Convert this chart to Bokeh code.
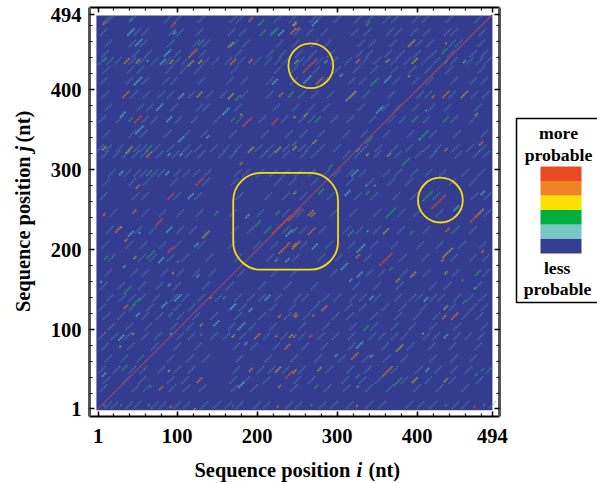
from bokeh.plotting import figure
from bokeh.models import FixedTicker, LinearAxis, Label, Range1d
from bokeh.layouts import row
from bokeh.embed import file_html
from bokeh.resources import INLINE

# ---- data: (i, j, streak length) in sequence positions
teal = [(42,472,10),(52,459,10),(97,471,4),(88,446,10),(63,436,2),(82,435,8),(230,471,8),(51,411,12),(105,392,8),
(222,410,8),(78,378,10),(32,369,8),(90,363,8),(161,373,10),(53,350,12),(138,341,4),(105,338,8),(90,319,4),(105,319,4),
(30,296,6),(88,296,6),(117,267,8),(272,483,8),(286,435,4),(263,413,12),(249,435,6),(305,418,4),(436,435,4),(459,435,4),
(363,413,10),(353,375,10),(411,374,2),(403,338,2),(326,325,6),(336,280,2),(347,280,2),(322,296,10),(313,271,8),(449,252,8),
(482,271,6),(188,242,6),(240,221,10),(238,187,6),(224,187,4),(42,220,8),(53,221,2),(90,225,8),(80,187,8),(124,206,6),(34,179,4),
(126,167,4),(5,160,3),(90,156,4),(101,140,10),(84,131,8),(170,129,8),(213,140,8),(192,125,6),(51,119,6),(149,108,8),(180,104,10),
(30,90,8),(92,95,2),(186,83,4),(180,31,8),(9,44,6),(272,204,8),(338,223,2),(330,202,12),(309,179,10),(328,169,8),(317,162,4),
(343,140,6),(411,138,6),(436,92,6),(328,81,10),(299,68,4),(343,67,4),(326,29,3),(413,50,6)]
green = [(42,488,4),(130,459,8),(10,438,6),(205,484,8),(222,473,10),(207,471,8),(176,390,8),(242,394,8),(42,363,6),(170,363,6),
(65,327,8),(247,333,6),(65,296,8),(149,246,6),(339,483,6),(347,410,12),(434,448,8),(397,363,8),(436,363,8),(276,363,8),(409,344,12),
(340,337,10),(386,310,12),(292,304,6),(338,271,6),(367,246,14),(413,267,14),(280,273,8),(213,225,10),(201,233,8),(226,246,6),
(101,185,3),(67,194,12),(11,190,5),(38,150,10),(49,135,10),(159,140,4),(92,119,6),(130,94,3),(34,52,8),(67,29,3),(9,6,3),(30,6,3),
(65,6,3),(170,5,3),(247,225,8),(393,221,6),(317,221,8),(367,176,5),(457,162,3),(476,171,8),(278,135,3),(459,135,6),(336,102,8),
(326,42,6),(474,44,4),(482,50,4),(274,29,6),(376,35,12),(436,6,3),(268,6,3),(484,6,3)]
olive = [(51,436,6),(93,435,6),(117,433,8),(129,435,6),(167,456,8),(247,481,4),(128,394,8),(167,392,8),(180,369,2),(9,327,6),
(40,325,10),(192,325,8),(226,325,8),(247,483,6),(363,436,5),(397,436,8),(393,458,10),(390,417,3),(317,392,14),(459,394,10),(474,369,4),
(261,369,6),(247,366,3),(247,327,6),(272,335,6),(338,319,4),(365,319,6),(478,246,12),(247,271,4),(247,206,6),(30,228,2),(47,190,4),
(136,219,10),(95,171,3),(130,106,4),(45,95,3),(29,79,3),(170,92,4),(242,92,5),(90,49,3),(226,50,8),(122,1,2),(270,244,6),(361,223,8),
(438,196,14),(395,169,8),(376,162,6),(436,171,4),(472,152,2),(249,117,4),(436,128,6),(407,95,2),(378,77,10),(247,48,6),(278,51,6),
(397,37,8),(436,37,6)]
orange = [(9,483,4),(37,436,8),(120,446,12),(170,435,8),(192,436,6),(192,488,6),(245,473,8),(36,394,10),(230,394,6),(65,319,8),(180,308,4),
(51,279,6),(47,248,6),(251,476,4),(278,411,10),(326,436,6),(436,458,2),(436,394,10),(420,391,4),(480,333,6),(436,325,4),(267,246,8),
(234,202,16),(26,225,8),(9,244,3),(36,212,4),(36,129,6),(142,140,3),(228,117,4),(247,119,5),(200,92,8),(224,92,3),(238,79,8),(128,37,8),
(192,50,5),(80,27,6),(228,29,4),(92,4,3),(226,4,3),(268,223,10),(249,206,12),(270,118,3),(326,192,6),(438,225,6),(432,187,4),(482,198,4),
(284,127,8),(247,92,4),(434,116,6),(447,117,10),(322,67,10),(363,48,14),(325,5,3)]
red = [(95,481,6),(51,363,10),(188,360,12),(222,360,8),(128,285,10),(92,267,8),(9,244,4),(266,430,18),(427,260,18),(230,231,24),
(247,244,16),(78,235,8),(92,200,8),(10,96,2),(240,44,10),(361,188,16),(472,240,12),(267,92,4),(472,4,3)]

faint_rows = {
488:[12,16,44,88,100,130,170,178,225,244,270,276,300,326,340,362,372,398,410,440,476],
472:[8,50,60,94,104,128,168,182,220,250,266,284,322,338,366,376,396,412,438,446,482],
458:[14,44,58,92,124,136,172,186,228,248,272,288,330,344,370,402,416,444,452,480],
445:[10,48,64,100,132,176,216,232,252,270,292,328,340,364,380,400,420,442,470,484],
436:[6,16,26,44,56,72,88,100,110,136,148,164,180,200,214,226,236,254,262,278,296,314,334,350,372,388,410,424,446,466,478,488],
425:[12,42,54,90,108,126,172,226,246,274,300,324,346,372,394,414,440,480],
411:[8,40,60,86,96,130,166,184,216,246,284,318,332,374,398,416,446,470,484],
394:[10,46,62,80,92,118,140,158,184,216,256,272,292,320,336,368,404,414,444,472,486],
378:[14,54,66,96,128,136,176,224,248,268,286,330,360,376,398,418,438,476],
363:[6,28,60,72,102,122,150,178,206,234,256,268,296,316,344,368,382,412,446,470],
345:[12,44,58,88,112,134,170,210,240,258,280,312,334,362,392,420,450,484],
327:[4,14,28,50,58,74,92,112,126,146,162,176,202,216,236,256,264,280,300,334,352,372,390,412,426,448,466,482],
319:[10,24,36,48,58,78,98,114,130,156,170,208,218,236,258,272,312,326,350,376,402,420,452,474,486],
296:[18,38,50,58,72,80,100,112,124,138,176,186,204,220,236,252,268,286,300,316,332,362,376,396,414,432,460,480],
285:[12,44,62,96,136,172,226,244,272,316,342,368,390,412,444,470],
267:[8,48,60,100,126,178,214,236,258,292,326,346,374,396,424,472,488],
246:[20,60,82,104,128,170,204,236,254,296,320,350,380,400,428,452,488],
225:[16,52,70,104,120,172,192,236,258,282,312,328,350,380,412,448,470],
206:[10,40,58,82,100,130,168,200,222,258,290,318,346,372,404,428,456,482],
190:[18,56,70,92,110,140,176,216,248,280,302,338,382,410,446,470,486],
171:[14,46,60,84,104,124,144,180,222,246,296,340,356,384,412,448,486],
155:[8,30,56,78,100,136,166,206,238,272,324,350,378,420,438,476],
140:[16,32,44,56,74,96,110,130,152,176,192,206,226,250,260,286,300,320,332,350,376,394,402,420,430,450,466,482],
128:[6,44,66,100,118,168,182,220,244,272,314,332,360,382,408,444,470,484],
117:[12,30,60,78,104,124,146,176,206,238,262,298,316,346,376,400,424,460,478],
104:[18,40,64,96,116,168,194,220,256,286,320,346,372,394,420,450,484],
92:[6,22,38,60,76,104,118,146,162,182,212,234,256,280,298,318,344,356,372,384,412,424,450,464,480],
79:[10,42,72,100,126,174,196,224,260,284,318,360,392,418,444,476],
64:[14,34,54,92,116,136,178,214,246,276,306,336,362,384,420,446,470],
50:[6,24,44,58,80,100,118,174,204,218,236,256,290,316,338,372,402,426,446,464,490],
37:[12,36,56,92,110,170,186,212,250,268,310,332,352,384,414,444,478],
27:[8,48,62,94,112,132,172,196,246,288,312,340,366,400,428,460],
6:[14,22,40,50,72,82,100,112,134,150,164,178,200,212,240,252,282,296,316,340,356,390,404,420,448,460,494]}

diag_i = [1, 494]
diag_j = [1, 494]
circle_i = [267, 429]
circle_j = [430, 262]
circle_d = [56, 56]
box_lrtb = (170, 301, 296, 175)
x_major = [1, 100, 200, 300, 400, 494]
y_major = [1, 100, 200, 300, 400, 494]
minor = [20*k for k in range(1, 25)]
tick_text = {1:"1", 100:"100", 200:"200", 300:"300", 400:"400", 494:"494"}
legend_colors = ["#343D92", "#79C6C4", "#00AE3D", "#F9E000", "#EE8323", "#E84B24"]
legend_levels = [0, 1, 2, 3, 4, 5]

SERIF = "Liberation Serif"
H = 483
XLO, XHI, YLO, YHI = -9.6, 502.9, -8.5, 502.75

p = figure(width=510, height=H, output_backend="svg", toolbar_location=None,
           x_range=Range1d(-120.9, 516.6), y_range=Range1d(-92.25, 511.5),
           x_axis_location=None, y_axis_location=None,
           min_border=0, outline_line_color=None, background_fill_color="white")
p.grid.visible = False

p.quad(left=-1, right=494, bottom=-0.6, top=492.7, fill_color="#343C90", line_color=None)

def draw(rows, color, width, alpha, dash="solid", scale=1.0):
    x0 = [r[0]-scale*r[2]/2 for r in rows]; y0 = [r[1]-scale*r[2]/2 for r in rows]
    x1 = [r[0]+scale*r[2]/2 for r in rows]; y1 = [r[1]+scale*r[2]/2 for r in rows]
    p.segment(x0, y0, x1, y1, line_color=color, line_width=width, line_alpha=alpha, line_dash=dash)

def blurred(rows, color, alpha, dash="2 1", scale=0.9):
    draw(rows, color, 2.6, 0.25, "solid", scale)
    draw(rows, color, 1.2, alpha, dash, scale)

faint = [(i, j, 9) for j, row_i in faint_rows.items() for i in row_i]
draw(faint, "#5aa8b8", 2.4, 0.14)
draw(faint, "#5aa8b8", 1.2, 0.5, "1 2")
blurred(teal, "#4fb0c0", 0.8)
blurred(green, "#259a62", 0.85)
blurred(olive, "#a8a63a", 0.8)
blurred(orange, "#c8783a", 0.85)
blurred(red, "#c84a42", 0.85, "3 1", 1.0)
p.line(diag_i, diag_j, line_color="#9c4c66", line_width=1.1, line_alpha=0.9)

YEL = "#F7DC0E"
p.ellipse(circle_i, circle_j, width=circle_d, height=circle_d, fill_color=None, line_color=YEL, line_width=1.8)
l, r, t, b = box_lrtb
p.quad(left=[l], right=[r], top=[t], bottom=[b], fill_color=None, line_color=YEL, line_width=1.8, border_radius=28)

def make_axis(ticks, bounds, where, labelled, color, width):
    ax = LinearAxis(ticker=FixedTicker(ticks=ticks, minor_ticks=minor), bounds=bounds, fixed_location=where)
    ax.major_tick_in = 5; ax.major_tick_out = 0
    ax.minor_tick_in = 3; ax.minor_tick_out = 0
    ax.major_tick_line_color = "black"; ax.minor_tick_line_color = "black"
    ax.major_tick_line_width = 1.5; ax.minor_tick_line_width = 1.2
    ax.axis_line_color = color; ax.axis_line_width = width
    if labelled:
        ax.major_label_text_font = SERIF
        ax.major_label_text_font_style = "bold"
        ax.major_label_text_font_size = "20.5px"
        ax.major_label_text_color = "black"
        ax.major_label_overrides = tick_text
    else:
        ax.major_label_text_font_size = "0px"
        ax.major_label_standoff = 0
        ax.major_label_overrides = {t: "" for t in ticks}
    return ax

bottom = make_axis(x_major, (XLO, XHI), YLO, True, "black", 2)
bottom.major_label_standoff = 12
left = make_axis(y_major, (YLO, YHI), XLO, True, "#555555", 3)
left.major_label_standoff = 8
p.add_layout(bottom, "below")
p.add_layout(left, "left")
p.add_layout(make_axis(x_major, (XLO, XHI), YHI, False, "black", 2), "above")
p.add_layout(make_axis(y_major, (YLO, YHI), XHI, False, "#555555", 3), "right")

def lab(x, y, text, size, style="bold", angle=0):
    p.add_layout(Label(x=x, y=y, text=text, text_font=SERIF, text_font_size=size, text_font_style=style,
                       angle=angle, angle_units="deg", text_align="left", text_baseline="middle", text_color="black"))

# x axis title
lab(121.6, -75.6, "Sequence position", "20.4px")
lab(324, -75.6, "i", "20.4px", style="bold italic")
lab(339, -75.6, "(nt)", "20.4px")
# y axis title
lab(-93, 122, "Sequence position", "20.4px", angle=90)
lab(-93, 322.7, "j", "20.4px", style="bold italic", angle=90)
lab(-93, 334, "(nt)", "20.4px", angle=90)

# legend panel, a figure of its own; y is in colour levels, x in page pixels
lvl = lambda Y: (253-Y)/14.5
q = figure(width=87, height=H, output_backend="svg", toolbar_location=None,
           x_range=Range1d(510, 597), y_range=Range1d(lvl(H), lvl(0)),
           x_axis_location=None, y_axis_location=None,
           min_border=0, outline_line_color=None)
q.grid.visible = False
q.quad(left=540, right=581, bottom=legend_levels, top=[v+1 for v in legend_levels], fill_color=legend_colors, line_color=None)
q.line([610, 516, 516, 610], [lvl(118), lvl(118), lvl(302), lvl(302)], line_color="black", line_width=1.5)
for txt, yy, xx in [("more", 132.5, 558), ("probable", 154, 558), ("less", 267.5, 556.7), ("probable", 288, 557)]:
    q.add_layout(Label(x=xx, y=lvl(yy), text=txt, text_font=SERIF, text_font_size="17.7px", text_font_style="bold",
                       text_align="center", text_baseline="middle", text_color="black"))

page = row(p, q, spacing=0)
open("out.html", "w").write(file_html(page, INLINE))
